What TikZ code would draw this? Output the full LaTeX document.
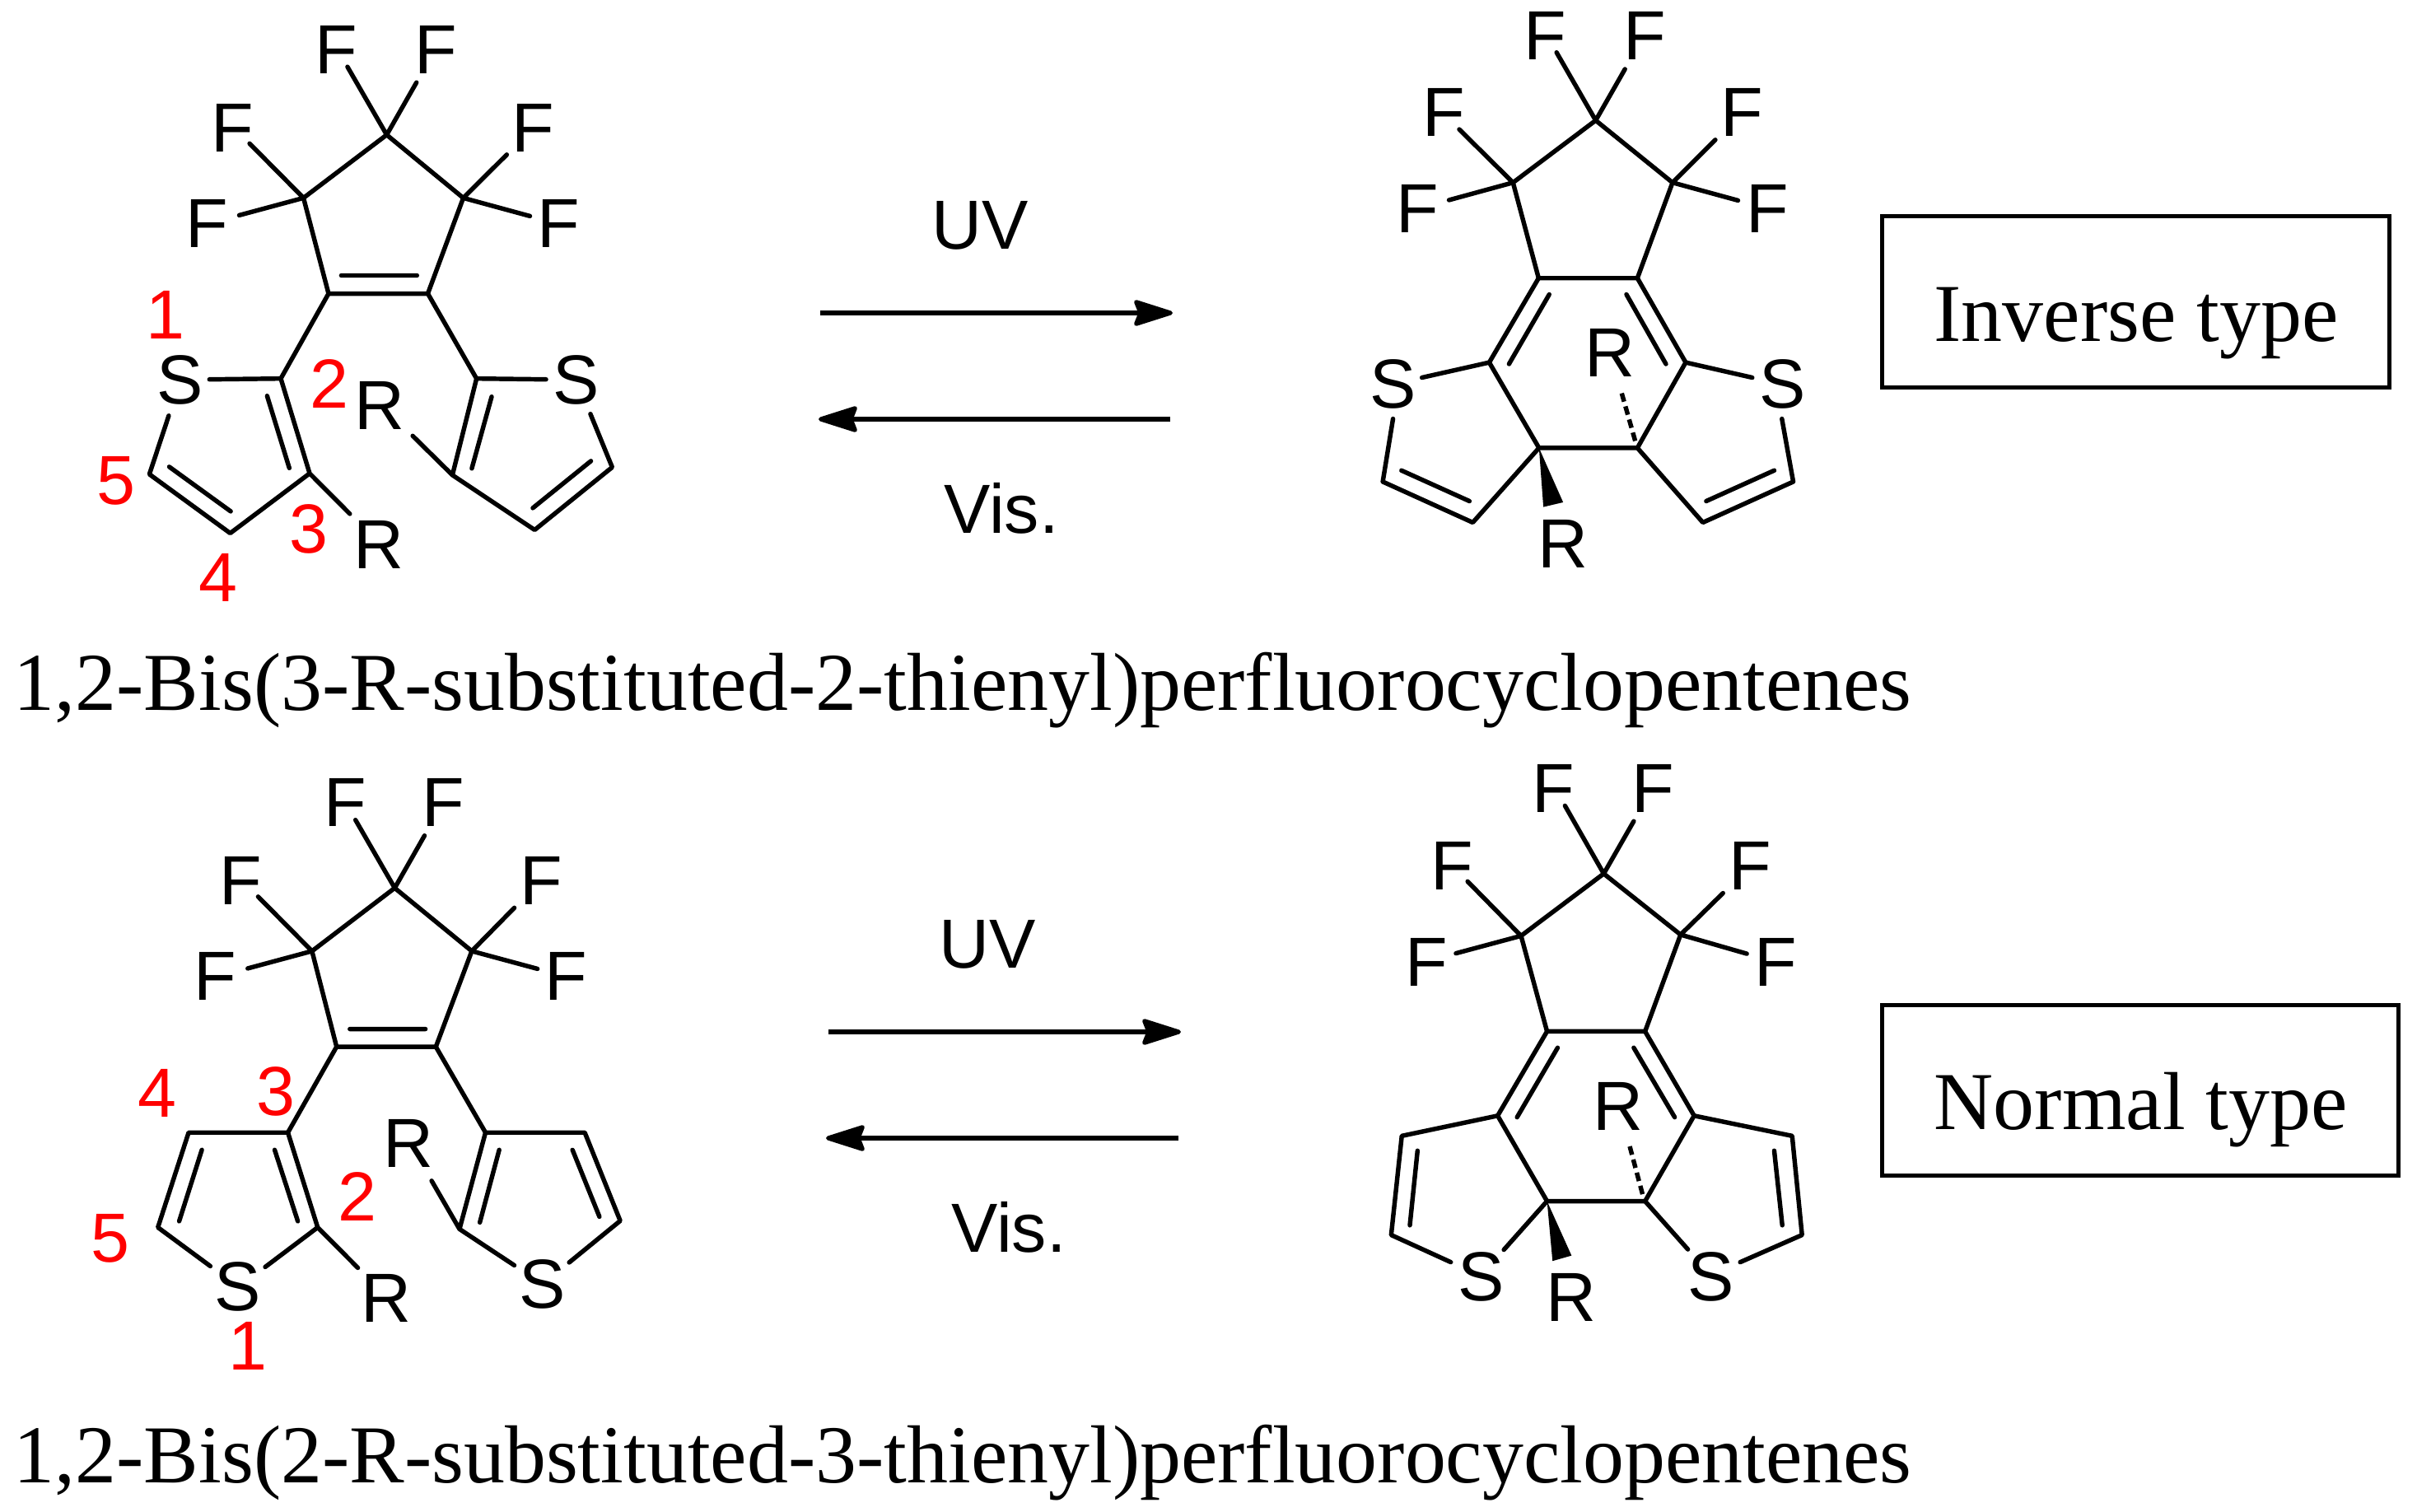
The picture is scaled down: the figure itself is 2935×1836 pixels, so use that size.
\documentclass[tikz,border=0pt]{standalone}
\usepackage{fontspec}
\setmainfont{Liberation Serif}
\newfontfamily\arialf{Liberation Sans}
\usetikzlibrary{arrows.meta}
\tikzset{
  bond/.style={line width=1.55pt,line cap=round,line join=round},
  atom/.style={font=\arialf\fontsize{24}{28}\selectfont,inner sep=0pt,anchor=center,text=black},
  num/.style={atom,text=red},
  title/.style={font=\fontsize{28.4}{32}\selectfont,inner sep=0pt,anchor=base west},
  tbox/.style={draw,line width=1.4pt,inner sep=0pt},
  rxn/.style={line width=1.45pt,-{Stealth[length=15.4pt,width=9.6pt,inset=1.8pt,round]}},
  lefts/.style={x=0.0057405cm,y=-0.005cm},
  rights/.style={x=0.0044444cm,y=-0.004717cm},
}
\begin{document}
\begin{tikzpicture}[x=0.01cm,y=-0.01cm]
\useasboundingbox (0,0) rectangle (2935,1836);

% ---------- top left ----------
\begin{scope}[lefts]
\node[atom] (aF1) at (712,120) {F}; \node[atom] (aF2) at (922,120) {F};
\node[atom] (aF3) at (492,310) {F}; \node[atom] (aF4) at (1128,310) {F};
\node[atom] (aF5) at (438,542) {F}; \node[atom] (aF6) at (1181,542) {F};
\node[atom] (aS1) at (381,922) {S}; \node[atom] (aS2) at (1219,922) {S};
\node[atom] (aR1) at (802,1320) {R}; \node[atom] (aR2) at (803,983) {R};
\node[num] (an1) at (350,763) {1}; \node[num] (an2) at (696,930) {2};
\node[num] (an3) at (654,1283) {3}; \node[num] (an4) at (461,1400) {4};
\node[num] (an5) at (245,1166) {5};
\coordinate (aA) at (818,327); \coordinate (aCL) at (642,480); \coordinate (aCR) at (980,480);
\coordinate (aDL) at (695,712); \coordinate (aDR) at (905,712);
\coordinate (aT2) at (594,918); \coordinate (aT3) at (655,1148); \coordinate (aT4) at (487,1293); \coordinate (aT5) at (316,1150);
\coordinate (aU2) at (1008,918); \coordinate (aU3) at (957,1152); \coordinate (aU4) at (1131,1285); \coordinate (aU5) at (1295,1133);
\coordinate (af1) at (735,162); \coordinate (af2) at (881,200); \coordinate (af3) at (528,348);
\coordinate (af4) at (1072,375); \coordinate (af5) at (506,522); \coordinate (af6) at (1121,524);
\coordinate (as1) at (443,920); \coordinate (as2) at (357,1008); \coordinate (as3) at (1155,920); \coordinate (as4) at (1249,1004);
\coordinate (ar1) at (740,1246); \coordinate (ar2) at (873,1057);
\coordinate (ai1) at (722,668); \coordinate (ai2) at (882,668);
\coordinate (ai3) at (565,960); \coordinate (ai4) at (612,1135);
\coordinate (ai5) at (358,1132); \coordinate (ai6) at (488,1240);
\coordinate (ai7) at (1040,962); \coordinate (ai8) at (998,1136);
\coordinate (ai9) at (1127,1232); \coordinate (ai10) at (1250,1118);
\draw[bond] (aDL)--(aCL)--(aA)--(aCR)--(aDR)--cycle;
\draw[bond] (aA)--(af1) (aA)--(af2) (aCL)--(af3) (aCL)--(af5) (aCR)--(af4) (aCR)--(af6);
\draw[bond] (ai1)--(ai2) (aDL)--(aT2) (aDR)--(aU2);
\draw[bond] (as1)--(aT2)--(aT3)--(aT4)--(aT5)--(as2) (aT3)--(ar1);
\draw[bond] (ai3)--(ai4) (ai5)--(ai6);
\draw[bond] (as3)--(aU2)--(aU3)--(aU4)--(aU5)--(as4) (aU3)--(ar2);
\draw[bond] (ai7)--(ai8) (ai9)--(ai10);
\end{scope}

% ---------- bottom left ----------
\begin{scope}[lefts,shift={(0cm,-9cm)}]
\node[atom] (cF1) at (730,148) {F}; \node[atom] (cF2) at (938,148) {F};
\node[atom] (cF3) at (510,337) {F}; \node[atom] (cF4) at (1145,337) {F};
\node[atom] (cF5) at (455,570) {F}; \node[atom] (cF6) at (1198,570) {F};
\node[atom] (cS1) at (503,1322) {S}; \node[atom] (cS2) at (1147,1315) {S};
\node[atom] (cR1) at (817,1350) {R}; \node[atom] (cR2) at (864,975) {R};
\node[num] (cn1) at (525,1466) {1}; \node[num] (cn2) at (756,1103) {2};
\node[num] (cn3) at (584,848) {3}; \node[num] (cn4) at (333,852) {4};
\node[num] (cn5) at (233,1205) {5};
\coordinate (cA) at (835,355); \coordinate (cCL) at (660,508); \coordinate (cCR) at (998,508);
\coordinate (cDL) at (712,740); \coordinate (cDR) at (922,740);
\coordinate (cT3) at (609,948); \coordinate (cT4) at (399,948); \coordinate (cT5) at (334,1178); \coordinate (cT2) at (672,1178);
\coordinate (cU3) at (1027,948); \coordinate (cU4) at (1237,948); \coordinate (cU5) at (1312,1162); \coordinate (cU2) at (972,1182);
\coordinate (cf1) at (752,190); \coordinate (cf2) at (898,228); \coordinate (cf3) at (546,376);
\coordinate (cf4) at (1088,403); \coordinate (cf5) at (524,550); \coordinate (cf6) at (1137,551);
\coordinate (cs1) at (445,1272); \coordinate (cs2) at (561,1274); \coordinate (cs3) at (1204,1263); \coordinate (cs4) at (1088,1270);
\coordinate (cr1) at (757,1276); \coordinate (cr2) at (913,1065);
\coordinate (ci1) at (740,697); \coordinate (ci2) at (900,697);
\coordinate (ci3) at (427,990); \coordinate (ci4) at (379,1163);
\coordinate (ci5) at (581,990); \coordinate (ci6) at (630,1163);
\coordinate (ci7) at (1211,990); \coordinate (ci8) at (1268,1152);
\coordinate (ci9) at (1056,990); \coordinate (ci10) at (1015,1166);
\draw[bond] (cDL)--(cCL)--(cA)--(cCR)--(cDR)--cycle;
\draw[bond] (cA)--(cf1) (cA)--(cf2) (cCL)--(cf3) (cCL)--(cf5) (cCR)--(cf4) (cCR)--(cf6);
\draw[bond] (ci1)--(ci2) (cDL)--(cT3) (cDR)--(cU3);
\draw[bond] (cs2)--(cT2)--(cT3)--(cT4)--(cT5)--(cs1) (cT2)--(cr1);
\draw[bond] (ci3)--(ci4) (ci5)--(ci6);
\draw[bond] (cs4)--(cU2)--(cU3)--(cU4)--(cU5)--(cs3) (cU2)--(cr2);
\draw[bond] (ci7)--(ci8) (ci9)--(ci10);
\end{scope}

% ---------- top right ----------
\begin{scope}[rights,shift={(16cm,0cm)}]
\node[atom] (bF1) at (620,92) {F}; \node[atom] (bF2) at (893,92) {F};
\node[atom] (bF3) at (342,290) {F}; \node[atom] (bF4) at (1157,290) {F};
\node[atom] (bF5) at (272,537) {F}; \node[atom] (bF6) at (1227,537) {F};
\node[atom] (bS1) at (205,988) {S}; \node[atom] (bS2) at (1268,988) {S};
\node[atom] (bR1) at (668,1400) {R}; \node[atom] (bR2) at (797,908) {R};
\coordinate (bA) at (758,310); \coordinate (bCL) at (532,470); \coordinate (bCR) at (968,470);
\coordinate (bDL) at (602,716); \coordinate (bDR) at (872,716);
\coordinate (bE) at (467,933); \coordinate (bG) at (1004,933); \coordinate (bH) at (603,1153); \coordinate (bJ) at (872,1153);
\coordinate (bK) at (422,1345); \coordinate (bL) at (176,1240); \coordinate (bM) at (1051,1345); \coordinate (bN) at (1298,1240);
\coordinate (bf1) at (651,135); \coordinate (bf2) at (838,178); \coordinate (bf3) at (385,333);
\coordinate (bf4) at (1085,360); \coordinate (bf5) at (357,515); \coordinate (bf6) at (1147,516);
\coordinate (bs1) at (283,972); \coordinate (bs2) at (204,1078); \coordinate (bs3) at (1186,972); \coordinate (bs4) at (1267,1078);
\coordinate (bi1) at (631,758); \coordinate (bi2) at (521,937);
\coordinate (bi3) at (842,758); \coordinate (bi4) at (950,937);
\coordinate (bi5) at (413,1290); \coordinate (bi6) at (227,1211);
\coordinate (bi7) at (1060,1290); \coordinate (bi8) at (1246,1211);
\coordinate (bw1) at (615,1305); \coordinate (bw2) at (669,1293);
\coordinate (bh1) at (866,1135); \coordinate (bh2) at (827,1005);
\draw[bond] (bDL)--(bCL)--(bA)--(bCR)--(bDR)--cycle;
\draw[bond] (bA)--(bf1) (bA)--(bf2) (bCL)--(bf3) (bCL)--(bf5) (bCR)--(bf4) (bCR)--(bf6);
\draw[bond] (bDL)--(bE)--(bH)--(bJ)--(bG)--(bDR);
\draw[bond] (bi1)--(bi2) (bi3)--(bi4) (bi5)--(bi6) (bi7)--(bi8);
\draw[bond] (bs1)--(bE) (bs3)--(bG);
\draw[bond] (bH)--(bK)--(bL)--(bs2) (bJ)--(bM)--(bN)--(bs4);
\fill (bH)--(bw1)--(bw2)--cycle;
\draw[bond,line cap=butt,dash pattern=on 3pt off 1.7pt] (bh1)--(bh2);
\end{scope}

% ---------- bottom right ----------
\begin{scope}[rights,shift={(16cm,-9cm)}]
\node[atom] (dF1) at (643,120) {F}; \node[atom] (dF2) at (915,120) {F};
\node[atom] (dF3) at (365,320) {F}; \node[atom] (dF4) at (1180,320) {F};
\node[atom] (dF5) at (295,567) {F}; \node[atom] (dF6) at (1250,567) {F};
\node[atom] (dS1) at (445,1377) {S}; \node[atom] (dS2) at (1072,1377) {S};
\node[atom] (dR1) at (690,1430) {R}; \node[atom] (dR2) at (820,940) {R};
\coordinate (dA) at (780,340); \coordinate (dCL) at (554,500); \coordinate (dCR) at (990,497);
\coordinate (dDL) at (625,746); \coordinate (dDR) at (893,746);
\coordinate (dE) at (490,963); \coordinate (dG) at (1027,963); \coordinate (dH) at (625,1183); \coordinate (dJ) at (893,1183);
\coordinate (dK) at (228,1015); \coordinate (dL) at (199,1270); \coordinate (dM) at (1295,1015); \coordinate (dN) at (1322,1270);
\coordinate (df1) at (674,165); \coordinate (df2) at (862,205); \coordinate (df3) at (408,360);
\coordinate (df4) at (1106,390); \coordinate (df5) at (376,545); \coordinate (df6) at (1171,546);
\coordinate (ds1) at (362,1340); \coordinate (ds2) at (507,1308); \coordinate (ds3) at (1153,1340); \coordinate (ds4) at (1010,1307);
\coordinate (di1) at (654,788); \coordinate (di2) at (543,967);
\coordinate (di3) at (862,788); \coordinate (di4) at (974,967);
\coordinate (di5) at (271,1053); \coordinate (di6) at (250,1245);
\coordinate (di7) at (1246,1053); \coordinate (di8) at (1268,1245);
\coordinate (dw1) at (640,1337); \coordinate (dw2) at (692,1323);
\coordinate (dh1) at (886,1165); \coordinate (dh2) at (850,1038);
\draw[bond] (dDL)--(dCL)--(dA)--(dCR)--(dDR)--cycle;
\draw[bond] (dA)--(df1) (dA)--(df2) (dCL)--(df3) (dCL)--(df5) (dCR)--(df4) (dCR)--(df6);
\draw[bond] (dDL)--(dE)--(dH)--(dJ)--(dG)--(dDR);
\draw[bond] (di1)--(di2) (di3)--(di4) (di5)--(di6) (di7)--(di8);
\draw[bond] (dE)--(dK)--(dL)--(ds1) (dG)--(dM)--(dN)--(ds3);
\draw[bond] (dH)--(ds2) (dJ)--(ds4);
\fill (dH)--(dw1)--(dw2)--cycle;
\draw[bond,line cap=butt,dash pattern=on 3pt off 1.7pt] (dh1)--(dh2);
\end{scope}

% ---------- reaction arrows ----------
\coordinate (e1a) at (996,380); \coordinate (e1b) at (1424,380);
\coordinate (e2a) at (1421,509); \coordinate (e2b) at (994,509);
\coordinate (e3a) at (1006,1253); \coordinate (e3b) at (1434,1253);
\coordinate (e4a) at (1431,1382); \coordinate (e4b) at (1003,1382);
\draw[rxn] (e1a)--(e1b);
\draw[rxn] (e2a)--(e2b);
\draw[rxn] (e3a)--(e3b);
\draw[rxn] (e4a)--(e4b);
\node[atom] (uv1) at (1190.5,274) {UV};
\node[atom] (vis1) at (1216,617) {Vis.};
\node[atom] (uv2) at (1199.5,1147) {UV};
\node[atom] (vis2) at (1225,1490) {Vis.};

% ---------- boxes ----------
\node[tbox,minimum width=6.15cm,minimum height=2.07cm] (box1) at (2593.5,366.5) {};
\node[tbox,minimum width=6.26cm,minimum height=2.06cm] (box2) at (2599,1324) {};
\node[title] (t1) at (2348,414) {Inverse type};
\node[title] (t2) at (2348,1371) {Normal type};

% ---------- captions ----------
\node[title] (cap1) at (16,862) {1,2-Bis(3-R-substituted-2-thienyl)perfluorocyclopentenes};
\node[title] (cap2) at (16,1800) {1,2-Bis(2-R-substituted-3-thienyl)perfluorocyclopentenes};
\end{tikzpicture}
\end{document}
